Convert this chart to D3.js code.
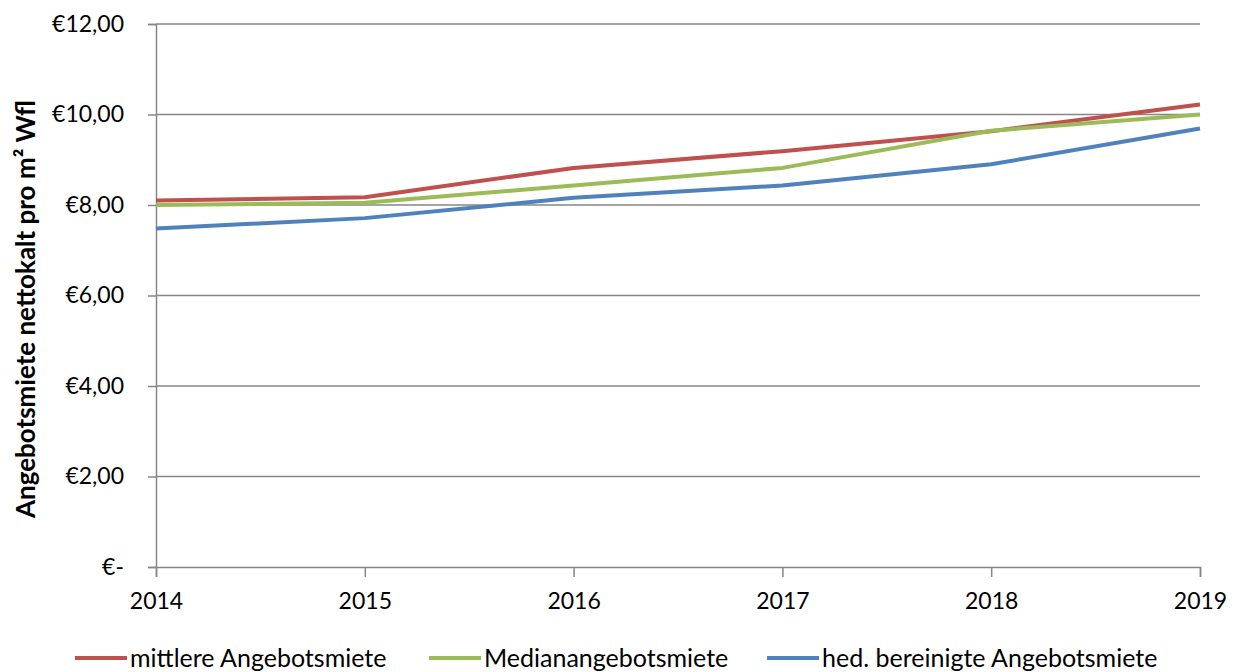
<!DOCTYPE html>
<html>
<head>
<meta charset="utf-8">
<script src="https://cdn.jsdelivr.net/npm/d3@7"></script>
<style>
  body { margin: 0; background: #fff; }
  text { font-family: Lato, "Open Sans", sans-serif; fill: #000; }
</style>
</head>
<body>
<script>
// data
var years = [2014, 2015, 2016, 2017, 2018, 2019];
var mittlere = [8.10, 8.17, 8.82, 9.19, 9.63, 10.22];
var median = [8.00, 8.05, 8.43, 8.82, 9.64, 10.00];
var hedonisch = [7.48, 7.71, 8.16, 8.43, 8.90, 9.69];
var yTicks = [0, 2, 4, 6, 8, 10, 12];
var seriesNames = ["mittlere Angebotsmiete", "Medianangebotsmiete", "hed. bereinigte Angebotsmiete"];
var seriesColors = ["#C0504D", "#9BBB59", "#4F81BD"];

var width = 1238, height = 672;
var mLeft = 156, mRight = 1200, mTop = 24, mBottom = 567;
var grid = "#868686";

var svg = d3.select("body").append("svg")
    .attr("width", width)
    .attr("height", height);

var x = d3.scalePoint().domain(years).range([mLeft, mRight]);
var y = d3.scaleLinear().domain([0, 12]).range([mBottom, mTop]);

function euro(v) {
    if (v === 0) return "€-";
    return "€" + v.toFixed(2).replace(".", ",");
}

// horizontal gridlines
svg.append("g").selectAll("line")
    .data(yTicks.filter(function (d) { return d > 0; }))
    .enter().append("line")
    .attr("x1", mLeft).attr("x2", mRight)
    .attr("y1", function (d) { return y(d); })
    .attr("y2", function (d) { return y(d); })
    .style("stroke", grid)
    .style("stroke-width", 1.5);

// y axis
var yAxis = svg.append("g")
    .attr("transform", "translate(" + mLeft + ",0)")
    .call(d3.axisLeft(y).tickValues(yTicks).tickFormat(euro).tickSize(8).tickPadding(24));
yAxis.select(".domain").style("stroke", grid).style("stroke-width", 1.5);
yAxis.selectAll(".tick line").style("stroke", grid).style("stroke-width", 1.5);
yAxis.selectAll("text").style("font-size", "23px");

// x axis
var xAxis = svg.append("g")
    .attr("transform", "translate(0," + mBottom + ")")
    .call(d3.axisBottom(x).tickSize(10).tickPadding(16));
xAxis.select(".domain").style("stroke", grid).style("stroke-width", 1.5);
xAxis.selectAll(".tick line").style("stroke", grid).style("stroke-width", 1.5);
xAxis.selectAll("text").style("font-size", "23px");

// y axis title
svg.append("text")
    .attr("transform", "translate(35,309) rotate(-90)")
    .attr("text-anchor", "middle")
    .style("font-size", "26px")
    .style("font-weight", "bold")
    .text("Angebotsmiete nettokalt pro m² Wfl");

// lines
var line = d3.line()
    .x(function (d, i) { return x(years[i]); })
    .y(function (d) { return y(d); });

[mittlere, median, hedonisch].forEach(function (vals, i) {
    svg.append("path")
        .datum(vals)
        .attr("d", line)
        .style("fill", "none")
        .style("stroke", seriesColors[i])
        .style("stroke-width", 4)
        .style("stroke-linejoin", "round");
});

// legend
var legendX = [75, 429, 767];
var legend = svg.append("g").selectAll("g")
    .data(seriesNames)
    .enter().append("g")
    .attr("transform", function (d, i) { return "translate(" + legendX[i] + ",658)"; });
legend.append("line")
    .attr("x1", 0).attr("x2", 52)
    .style("stroke", function (d, i) { return seriesColors[i]; })
    .style("stroke-width", 4);
legend.append("text")
    .attr("x", 55).attr("dy", "0.35em")
    .style("font-size", "25px")
    .text(function (d) { return d; });
</script>
</body>
</html>
